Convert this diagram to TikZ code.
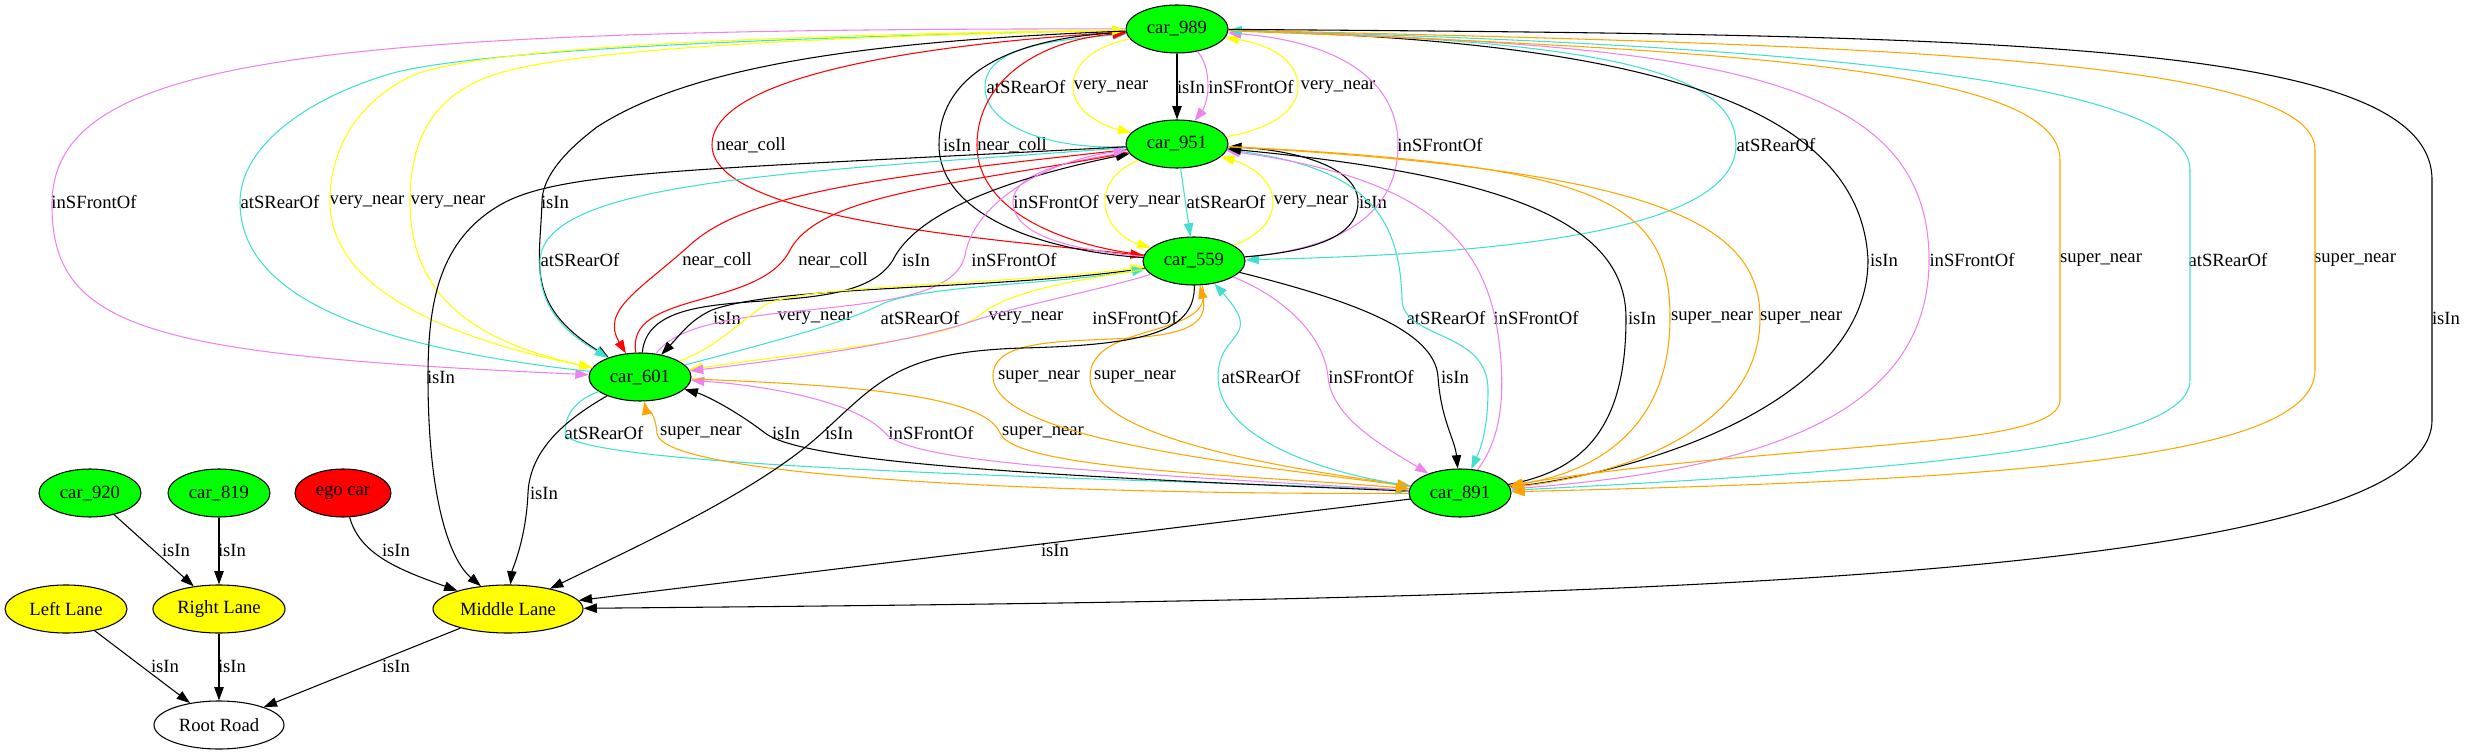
\documentclass[tikz,border=0pt]{standalone}
\usepackage{fontspec}
\setmainfont{Liberation Serif}
\usetikzlibrary{shapes.geometric,arrows.meta}
\definecolor{gvgreen}{HTML}{00FF00}
\definecolor{gvyellow}{HTML}{FFFF00}
\definecolor{gvturq}{HTML}{40E0D0}
\definecolor{gvviolet}{HTML}{EE82EE}
\definecolor{gvorange}{HTML}{FFA500}
\definecolor{gvred}{HTML}{FF0000}
\tikzset{
  obj/.style={ellipse, draw, line width=0.8pt, minimum height=36pt, inner sep=0pt, font=\fontsize{14}{16}\selectfont},
  car/.style={obj, fill=gvgreen, minimum width=76.5pt},
  lane/.style={obj, fill=gvyellow},
  lbl/.style={inner sep=0pt, font=\fontsize{14}{16}\selectfont},
  rel/.style={-{Triangle[length=10pt,width=7pt]}, line width=0.8pt},
  isin/.style={rel, black},
  vnear/.style={rel, gvyellow},
  rear/.style={rel, gvturq},
  front/.style={rel, gvviolet},
  coll/.style={rel, gvred},
  snear/.style={rel, gvorange}
}
\begin{document}
\begin{tikzpicture}[x=0.75pt, y=-0.75pt]
\useasboundingbox (0,0) rectangle (2466,755);

\node[car] (c989) at (1177,29) {car\_989};
\node[car] (c951) at (1177,144) {car\_951};
\node[car] (c559) at (1194,261) {car\_559};
\node[car] (c601) at (640,377) {car\_601};
\node[car] (c891) at (1460,493) {car\_891};
\node[car] (c920) at (90,493) {car\_920};
\node[car] (c819) at (219,493) {car\_819};
\node[car, fill=gvred, minimum width=72pt] (ego) at (343,493) {ego car};
\node[lane, minimum width=91.5pt] (llane) at (66,609) {Left Lane};
\node[lane, minimum width=99pt] (rlane) at (219,609) {Right Lane};
\node[lane, minimum width=112.5pt] (mlane) at (508,609) {Middle Lane};
\node[obj, fill=white, minimum width=97.5pt] (root) at (219,725) {Root Road};

\foreach \x/\y/\t [count=\i] in {
  1026/87/atSRearOf, 1111/87/very\_near, 1191/87/isIn, 1251/87/inSFrontOf, 1338/87/very\_near,
  751/145/near\_coll, 957/145/isIn, 1012/145/near\_coll, 1440/145/inSFrontOf, 1776/145/atSRearOf,
  94/202/inSFrontOf, 280/202/atSRearOf, 367/202/very\_near, 448/202/very\_near, 555/202/isIn,
  1056/202/inSFrontOf, 1143/202/very\_near, 1226/202/atSRearOf, 1311/202/very\_near, 1373/202/isIn,
  580/260/atSRearOf, 717/260/near\_coll, 833/260/near\_coll, 916/260/isIn, 1014/260/inSFrontOf,
  1884/260/isIn, 1972/260/inSFrontOf, 2101/260/super\_near, 2228/260/atSRearOf, 2355/260/super\_near,
  727/318/isIn, 815/318/very\_near, 920/318/atSRearOf, 1026/318/very\_near, 1135/318/inSFrontOf,
  1446/318/atSRearOf, 1536/318/inSFrontOf, 1642/318/isIn, 1712/318/super\_near, 1801/318/super\_near,
  2446/318/isIn,
  441/377/isIn, 1039/377/super\_near, 1135/377/super\_near, 1261/377/atSRearOf, 1371/377/inSFrontOf,
  1455/377/isIn,
  604/433/atSRearOf, 701/433/super\_near, 786/433/isIn, 839/433/isIn, 931/433/inSFrontOf,
  1043/433/super\_near,
  544/493/isIn, 176/550/isIn, 232/550/isIn, 396/550/isIn, 1055/550/isIn,
  165/666/isIn, 232/666/isIn, 396/666/isIn}
  \node[lbl] (lab\i) at (\x,\y) {\t};

\draw[rear] (c951) .. controls (1060,150) and (985,130) .. (985,87) .. controls (985,45) and (1060,40) .. (c989);
\draw[vnear] (c989) .. controls (1100,45) and (1073,60) .. (1073,87) .. controls (1073,110) and (1100,125) .. (c951);
\draw[isin] (c989) -- (c951);
\draw[front] (c989) .. controls (1205,60) and (1208,72) .. (1208,87) .. controls (1208,100) and (1203,110) .. (c951);
\draw[vnear] (c951) .. controls (1270,130) and (1298,110) .. (1298,87) .. controls (1298,60) and (1270,45) .. (c989);

\draw[coll] (c989) .. controls (900,45) and (712,80) .. (712,145) .. controls (712,220) and (1000,240) .. (c559);
\draw[isin] (c559) .. controls (1030,250) and (939,210) .. (939,145) .. controls (939,80) and (1000,40) .. (c989);
\draw[coll] (c559) .. controls (1060,245) and (977,210) .. (977,145) .. controls (977,80) and (1040,40) .. (c989);
\draw[front] (c559) .. controls (1330,250) and (1398,220) .. (1398,145) .. controls (1398,70) and (1320,40) .. (c989);
\draw[rear] (c989) .. controls (1600,40) and (1736,70) .. (1736,145) .. controls (1736,240) and (1450,255) .. (c559);

\draw[front] (c989) .. controls (300,28) and (55,60) .. (52,202) .. controls (50,330) and (150,355) .. (c601);
\draw[rear] (c601) .. controls (350,345) and (240,290) .. (240,202) .. controls (240,150) and (300,100) .. (393,73) .. controls (500,45) and (900,35) .. (c989);
\draw[vnear] (c989) .. controls (800,35) and (480,45) .. (409,77) .. controls (355,105) and (330,150) .. (330,202) .. controls (330,300) and (480,345) .. (c601);
\draw[vnear] (c601) .. controls (480,345) and (410,300) .. (410,202) .. controls (410,130) and (440,90) .. (503,72) .. controls (600,45) and (900,35) .. (c989);
\draw[isin] (c989) .. controls (900,40) and (700,60) .. (597,127) .. controls (560,155) and (542,180) .. (542,202) .. controls (540,265) and (525,305) .. (c601);

\draw[front] (c559) .. controls (1070,250) and (1013,235) .. (1013,202) .. controls (1013,170) and (1080,160) .. (c951);
\draw[vnear] (c951) .. controls (1115,170) and (1105,185) .. (1105,202) .. controls (1105,225) and (1125,240) .. (c559);
\draw[rear] (c951) -- (c559);
\draw[vnear] (c559) .. controls (1260,235) and (1273,220) .. (1273,202) .. controls (1273,180) and (1250,165) .. (c951);
\draw[isin] (c559) .. controls (1330,250) and (1358,230) .. (1358,202) .. controls (1358,165) and (1290,150) .. (c951);

\draw[rear] (c951) .. controls (800,172) and (545,180) .. (540,260) .. controls (537,310) and (570,335) .. (c601);
\draw[coll] (c951) .. controls (900,175) and (750,190) .. (690,245) .. controls (640,290) and (600,310) .. (c601);
\draw[coll] (c601) .. controls (625,290) and (760,310) .. (790,250) .. controls (820,195) and (950,185) .. (c951);
\draw[isin] (c601) .. controls (650,270) and (850,330) .. (893,260) .. controls (915,215) and (1000,180) .. (c951);
\draw[front] (c601) .. controls (700,290) and (950,330) .. (965,255) .. controls (975,200) and (1050,160) .. (c951);

\draw[isin] (c989) .. controls (1600,40) and (1860,90) .. (1868,260) .. controls (1868,400) and (1650,470) .. (c891);
\draw[front] (c989) .. controls (1700,45) and (1929,70) .. (1929,260) .. controls (1929,420) and (1750,470) .. (c891);
\draw[snear] (c989) .. controls (1750,50) and (2060,70) .. (2060,160) -- (2060,400) .. controls (2060,450) and (1800,440) .. (c891);
\draw[rear] (c891) .. controls (1900,470) and (2190,450) .. (2190,380) -- (2190,170) .. controls (2190,80) and (1800,45) .. (c989);
\draw[snear] (c989) .. controls (1900,45) and (2315,60) .. (2315,150) -- (2315,370) .. controls (2315,460) and (2000,480) .. (c891);

\draw[isin] (c989) .. controls (2000,35) and (2432,40) .. (2432,180) -- (2432,420) .. controls (2432,590) and (1500,600) .. (mlane);

\draw[isin] (c559) .. controls (1000,290) and (780,285) .. (712,310) .. controls (690,320) and (680,335) .. (c601);
\draw[vnear] (c601) .. controls (720,345) and (735,325) .. (765,305) .. controls (800,285) and (1000,285) .. (c559);
\draw[rear] (c601) .. controls (760,345) and (840,325) .. (880,305) .. controls (920,285) and (1050,285) .. (c559);
\draw[vnear] (c559) .. controls (1080,280) and (1010,290) .. (980,315) .. controls (950,340) and (820,350) .. (c601);
\draw[front] (c559) .. controls (1100,290) and (1020,305) .. (970,322) .. controls (900,345) and (780,360) .. (c601);

\draw[rear] (c951) .. controls (1360,165) and (1400,210) .. (1402,300) .. controls (1404,340) and (1488,330) .. (1488,390) .. controls (1488,430) and (1480,450) .. (c891);
\draw[front] (c891) .. controls (1500,440) and (1505,400) .. (1500,350) .. controls (1490,250) and (1440,180) .. (c951);
\draw[isin] (c891) .. controls (1590,470) and (1626,420) .. (1626,318) .. controls (1626,220) and (1500,175) .. (c951);
\draw[snear] (c951) .. controls (1600,165) and (1670,200) .. (1670,318) .. controls (1670,440) and (1580,475) .. (c891);
\draw[snear] (c951) .. controls (1650,170) and (1760,220) .. (1760,318) .. controls (1760,430) and (1620,475) .. (c891);

\draw[snear] (c891) .. controls (1250,465) and (995,440) .. (993,377) .. controls (990,310) and (1220,370) .. (c559);
\draw[snear] (c559) .. controls (1220,340) and (1090,320) .. (1090,377) .. controls (1090,440) and (1300,470) .. (c891);
\draw[rear] (c891) .. controls (1300,470) and (1218,430) .. (1218,377) .. controls (1218,330) and (1265,340) .. (c559);
\draw[front] (c559) .. controls (1290,300) and (1325,340) .. (1328,377) .. controls (1332,420) and (1390,450) .. (c891);
\draw[isin] (c559) .. controls (1350,300) and (1435,330) .. (1438,377) .. controls (1441,420) and (1455,440) .. (c891);

\draw[rear] (c601) .. controls (575,400) and (565,415) .. (565,433) .. controls (565,470) and (1200,480) .. (c891);
\draw[snear] (c891) .. controls (1100,495) and (660,480) .. (657,433) .. controls (655,410) and (645,405) .. (c601);
\draw[isin] (c891) .. controls (1000,475) and (800,460) .. (765,433) .. controls (735,410) and (705,395) .. (c601);
\draw[front] (c891) .. controls (1050,470) and (910,460) .. (885,433) .. controls (855,400) and (760,385) .. (c601);
\draw[snear] (c601) .. controls (850,385) and (985,395) .. (1000,433) .. controls (1015,470) and (1250,475) .. (c891);

\draw[isin] (c951) .. controls (700,170) and (560,170) .. (500,205) .. controls (440,240) and (428,300) .. (428,377) .. controls (428,500) and (450,560) .. (mlane);
\draw[isin] (c559) .. controls (1195,330) and (1150,345) .. (1022,348) .. controls (900,352) and (880,380) .. (822,433) .. controls (760,490) and (640,545) .. (mlane);
\draw[isin] (c601) .. controls (565,420) and (530,450) .. (528,493) .. controls (526,540) and (512,570) .. (mlane);
\draw[isin] (c891) -- (mlane);
\draw[isin] (ego) .. controls (360,555) and (400,570) .. (mlane);
\draw[isin] (c920) -- (rlane);
\draw[isin] (c819) -- (rlane);
\draw[isin] (llane) -- (root);
\draw[isin] (rlane) -- (root);
\draw[isin] (mlane) -- (root);
\end{tikzpicture}
\end{document}
